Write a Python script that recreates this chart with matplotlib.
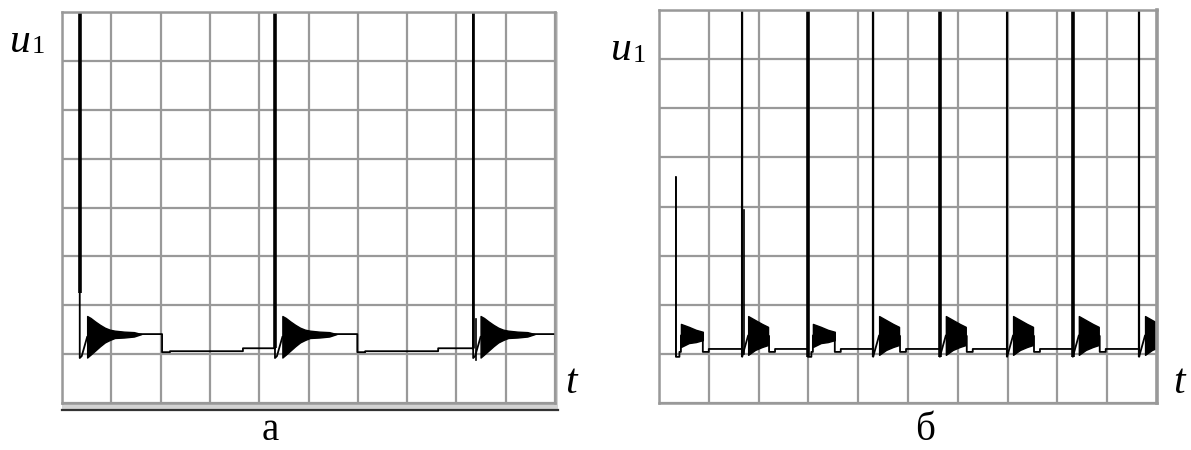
import numpy as np
import matplotlib
matplotlib.use("Agg")
import matplotlib.pyplot as plt

# grid is 10 x 8 cells, signal zero level sits on the first horizontal line
GRID_X = 10
GRID_Y = 8

# panel a: spike positions (in grid cells) and their stroke widths
a_spike_x = [0.36, 4.32, 8.34]
a_spike_lw = [2.6, 2.6, 1.9]
a_spike_thick_from = [2.25, 1.12, 1.12]

# panel a: ringing burst envelope after each spike (offset from spike)
a_burst_dx = [0.15, 0.22, 0.31, 0.41, 0.51, 0.61, 0.71, 0.90, 1.10, 1.25]
a_burst_top = [1.78, 1.74, 1.67, 1.60, 1.54, 1.50, 1.48, 1.46, 1.45, 1.41]
a_burst_bot = [0.93, 0.99, 1.07, 1.16, 1.24, 1.29, 1.33, 1.34, 1.36, 1.41]
# panel a: flat levels after the burst (offset, level)
a_level_dx = [1.25, 1.67, 1.83, 3.31]
a_level_y = [1.41, 1.04, 1.06, 1.12]
a_dip = 0.92

# panel b
b_spike_x = [0.34, 1.67, 2.99, 4.30, 5.64, 6.99, 8.31, 9.64]
b_spike_top = [4.60, 9, 9, 9, 9, 9, 9, 9]
b_spike_lw = [1.1, 1.5, 2.6, 1.6, 2.6, 1.5, 2.6, 1.6]
b_burst_kind = ["A", "B", "A", "B", "B", "B", "B", "B"]

b_burst = {
    "A": dict(dx=[0.10, 0.18, 0.26, 0.33, 0.40, 0.47, 0.54],
              top=[1.61, 1.58, 1.55, 1.52, 1.49, 1.47, 1.45],
              bot=[1.14, 1.18, 1.22, 1.23, 1.24, 1.26, 1.28]),
    "B": dict(dx=[0.12, 0.19, 0.26, 0.33, 0.40, 0.46, 0.52],
              top=[1.77, 1.73, 1.69, 1.65, 1.61, 1.58, 1.55],
              bot=[0.98, 1.03, 1.08, 1.11, 1.14, 1.16, 1.18]),
}
b_pre_dx = [0.02, 0.07, 0.07, 0.10]
b_pre_y = [0.94, 0.94, 1.04, 1.04]
b_level_dx = [0.54, 0.66]
b_level_y = [1.04, 1.10]
b_dip = 0.94

GRID_COLOR = "#999999"
SERIF = "Liberation Serif"


def setup_axes(ax):
    ax.set_xlim(0, GRID_X)
    ax.set_ylim(0, GRID_Y)
    ax.set_xticks(range(GRID_X + 1))
    ax.set_yticks(range(GRID_Y + 1))
    ax.tick_params(length=0, labelbottom=False, labelleft=False)
    ax.grid(True, color=GRID_COLOR, lw=1.6)
    ax.set_axisbelow(True)
    for s in ax.spines.values():
        s.set_color(GRID_COLOR)
        s.set_linewidth(1.8)


fig = plt.figure(figsize=(11.91, 4.5), dpi=100)
ax1 = fig.add_axes([62 / 1191, 1 - 403 / 450, 493 / 1191, 391 / 450])
ax2 = fig.add_axes([659 / 1191, 1 - 403 / 450, 498 / 1191, 393 / 450])
setup_axes(ax1)
setup_axes(ax2)

# ---- panel a ----
xs, ys = [], []
for i, s in enumerate(a_spike_x):
    nxt = a_spike_x[i + 1] if i + 1 < len(a_spike_x) else GRID_X + 1
    xs += [s, s, s + 0.04, s + a_burst_dx[0]]
    ys += [9, a_dip, 0.96, 1.35]
    mid = (np.array(a_burst_top) + np.array(a_burst_bot)) / 2
    xs += [s + d for d in a_burst_dx]
    ys += list(mid)
    for j, d in enumerate(a_level_dx):
        end = a_level_dx[j + 1] if j + 1 < len(a_level_dx) else nxt - s
        xs += [s + d, s + end]
        ys += [a_level_y[j], a_level_y[j]]
    ax1.fill_between([s + d for d in a_burst_dx], a_burst_bot, a_burst_top,
                     color="black", lw=1.0)
    ax1.plot([s, s], [a_spike_thick_from[i], 9], color="black",
             lw=a_spike_lw[i], solid_capstyle="butt")
ax1.plot(xs, ys, color="black", lw=1.3)
ax1.plot([a_spike_x[2] + 0.06] * 2, [0.88, 1.72], color="black", lw=1.2)

# bottom frame edge of panel a
ax1.fill_between([0, 10.07], -0.14, 0, color="#d4d4d4", clip_on=False, lw=0)
ax1.fill_between([10, 10.07], -0.14, GRID_Y, color="#d4d4d4", clip_on=False, lw=0)
ax1.plot([0, 10.07], [-0.15, -0.15], color="#333333", lw=1.6, clip_on=False)

# ---- panel b ----
xs, ys = [], []
for i, s in enumerate(b_spike_x):
    nxt = b_spike_x[i + 1] if i + 1 < len(b_spike_x) else GRID_X + 1
    b = b_burst[b_burst_kind[i]]
    xs += [s, s]
    ys += [b_spike_top[i], b_dip]
    if b_burst_kind[i] == "A":
        xs += [s + d for d in b_pre_dx]
        ys += b_pre_y
    mid = (np.array(b["top"]) + np.array(b["bot"])) / 2
    xs += [s + d for d in b["dx"]]
    ys += list(mid)
    for j, d in enumerate(b_level_dx):
        end = b_level_dx[j + 1] if j + 1 < len(b_level_dx) else nxt - s
        xs += [s + d, s + d, s + end]
        ys += [ys[-1], b_level_y[j], b_level_y[j]]
    ax2.fill_between([s + d for d in b["dx"]], b["bot"], b["top"],
                     color="black", lw=1.0)
    ax2.plot([s, s], [b_dip, b_spike_top[i]], color="black",
             lw=b_spike_lw[i], solid_capstyle="butt")
ax2.plot(xs, ys, color="black", lw=1.3)
ax2.plot([b_spike_x[1] + 0.04] * 2, [1.0, 3.93], color="black", lw=1.2)
ax2.spines["right"].set_linewidth(2.6)

# ---- labels ----
def px(x, y):
    return x / 1191, 1 - y / 450

fig.text(*px(10, 52), "u", family=SERIF, style="italic", fontsize=30, va="baseline")
fig.text(*px(32, 53), "1", family=SERIF, fontsize=19, va="baseline")
fig.text(*px(565, 393), "t", family=SERIF, style="italic", fontsize=30, va="baseline")
fig.text(*px(270, 449), "а", family=SERIF, fontsize=28, va="bottom", ha="center")

fig.text(*px(611, 60), "u", family=SERIF, style="italic", fontsize=30, va="baseline")
fig.text(*px(633, 62), "1", family=SERIF, fontsize=19, va="baseline")
fig.text(*px(1173, 393), "t", family=SERIF, style="italic", fontsize=30, va="baseline")
fig.text(*px(925, 449), "б", family=SERIF, fontsize=28, va="bottom", ha="center")

fig.savefig("out.png", dpi=100)
